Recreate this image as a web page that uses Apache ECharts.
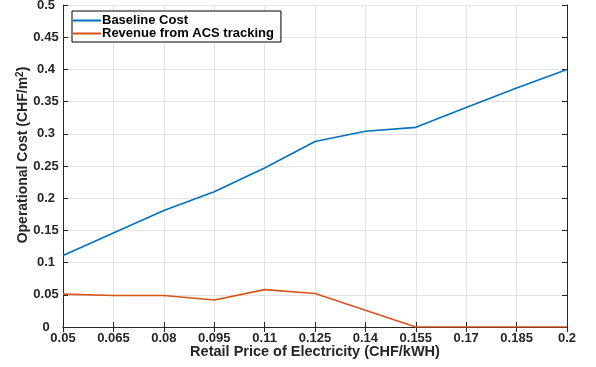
<!DOCTYPE html>
<html>
<head>
<meta charset="utf-8">
<script src="https://cdn.jsdelivr.net/npm/echarts@6/dist/echarts.min.js"></script>
<style>
  html, body { margin: 0; padding: 0; background: #fff; }
  #chart { width: 596px; height: 367px; }
</style>
</head>
<body>
<div id="chart"></div>
<script>
// Retail price steps (CHF/kWh)
const prices = ['0.05', '0.065', '0.08', '0.095', '0.11', '0.125', '0.14', '0.155', '0.17', '0.185', '0.2'];
// Operational cost without tracking (CHF/m^2)
const baselineCost = [0.111, 0.146, 0.181, 0.210, 0.247, 0.288, 0.304, 0.310, 0.341, 0.371, 0.400];
// Revenue earned from ACS tracking (CHF/m^2)
const acsRevenue = [0.051, 0.049, 0.049, 0.042, 0.058, 0.052, 0.026, 0.0, 0.0, 0.0, 0.0];

const FONT = 'Liberation Sans, Arial, Helvetica, sans-serif';
const AXIS_COLOR = '#262626';
const GRID_COLOR = '#e3e3e3';

const chart = echarts.init(document.getElementById('chart'), null, { renderer: 'canvas' });

const labelStyle = { color: AXIS_COLOR, fontFamily: FONT, fontWeight: 'bold', fontSize: 13 };

chart.setOption({
  animation: false,
  backgroundColor: '#fff',
  grid: { left: 63, right: 29, top: 5, bottom: 40, outerBoundsMode: 'none' },
  legend: {
    orient: 'vertical',
    left: 72,
    top: 11,
    padding: [3, 7, 2, 1],
    itemGap: 0,
    itemWidth: 28,
    itemHeight: 2,
    borderColor: '#000',
    borderWidth: 1,
    borderRadius: 0,
    backgroundColor: '#fff',
    textStyle: { color: '#000', fontFamily: FONT, fontWeight: 'bold', fontSize: 13, lineHeight: 13, padding: [0, 0, 0, -4] },
    data: [
      { name: 'Baseline Cost', icon: 'rect' },
      { name: 'Revenue from ACS tracking', icon: 'rect' }
    ]
  },
  xAxis: [
    {
      type: 'category',
      data: prices,
      boundaryGap: false,
      name: 'Retail Price of Electricity (CHF/kWH)',
      nameLocation: 'middle',
      nameGap: 17,
      nameMoveOverlap: false,
      nameTextStyle: { color: AXIS_COLOR, fontFamily: FONT, fontWeight: 'bold', fontSize: 14.5, verticalAlign: 'top' },
      axisLine: { lineStyle: { color: AXIS_COLOR, width: 1 } },
      axisTick: { inside: true, length: 5, alignWithLabel: true, lineStyle: { color: AXIS_COLOR } },
      axisLabel: Object.assign({ margin: 5 }, labelStyle),
      splitLine: { show: true, lineStyle: { color: GRID_COLOR, width: 1 } }
    },
    {
      type: 'category',
      data: prices,
      boundaryGap: false,
      position: 'top',
      axisLine: { lineStyle: { color: AXIS_COLOR, width: 1 } },
      axisTick: { inside: true, length: 5, lineStyle: { color: AXIS_COLOR } },
      axisLabel: { show: false },
      splitLine: { show: false }
    }
  ],
  yAxis: [
    {
      type: 'value',
      min: 0,
      max: 0.5,
      interval: 0.05,
      name: '{t|Operational Cost (CHF/m}{s|2}{t|)}',
      nameLocation: 'middle',
      nameGap: 31,
      nameMoveOverlap: false,
      nameTextStyle: {
        padding: [0, 0, 0, 22],
        rich: {
          t: { color: AXIS_COLOR, fontFamily: FONT, fontWeight: 'bold', fontSize: 14 },
          s: { color: AXIS_COLOR, fontFamily: FONT, fontWeight: 'bold', fontSize: 10, verticalAlign: 'top', padding: [0, 0, 7, 0] }
        }
      },
      axisLine: { show: true, lineStyle: { color: AXIS_COLOR, width: 1 } },
      axisTick: { show: true, inside: true, length: 5, lineStyle: { color: AXIS_COLOR } },
      axisLabel: Object.assign({ margin: 17, align: 'center' }, labelStyle),
      splitLine: { show: true, lineStyle: { color: GRID_COLOR, width: 1 } }
    },
    {
      type: 'value',
      min: 0,
      max: 0.5,
      interval: 0.05,
      position: 'right',
      axisLine: { show: true, lineStyle: { color: AXIS_COLOR, width: 1 } },
      axisTick: { show: true, inside: true, length: 5, lineStyle: { color: AXIS_COLOR } },
      axisLabel: { show: false },
      splitLine: { show: false }
    }
  ],
  series: [
    {
      name: 'Baseline Cost',
      type: 'line',
      data: baselineCost,
      showSymbol: false,
      color: '#0072BD',
      lineStyle: { width: 1.6, color: '#0072BD' }
    },
    {
      name: 'Revenue from ACS tracking',
      type: 'line',
      data: acsRevenue,
      showSymbol: false,
      color: '#D95319',
      lineStyle: { width: 1.6, color: '#D95319' }
    }
  ]
});
</script>
</body>
</html>
